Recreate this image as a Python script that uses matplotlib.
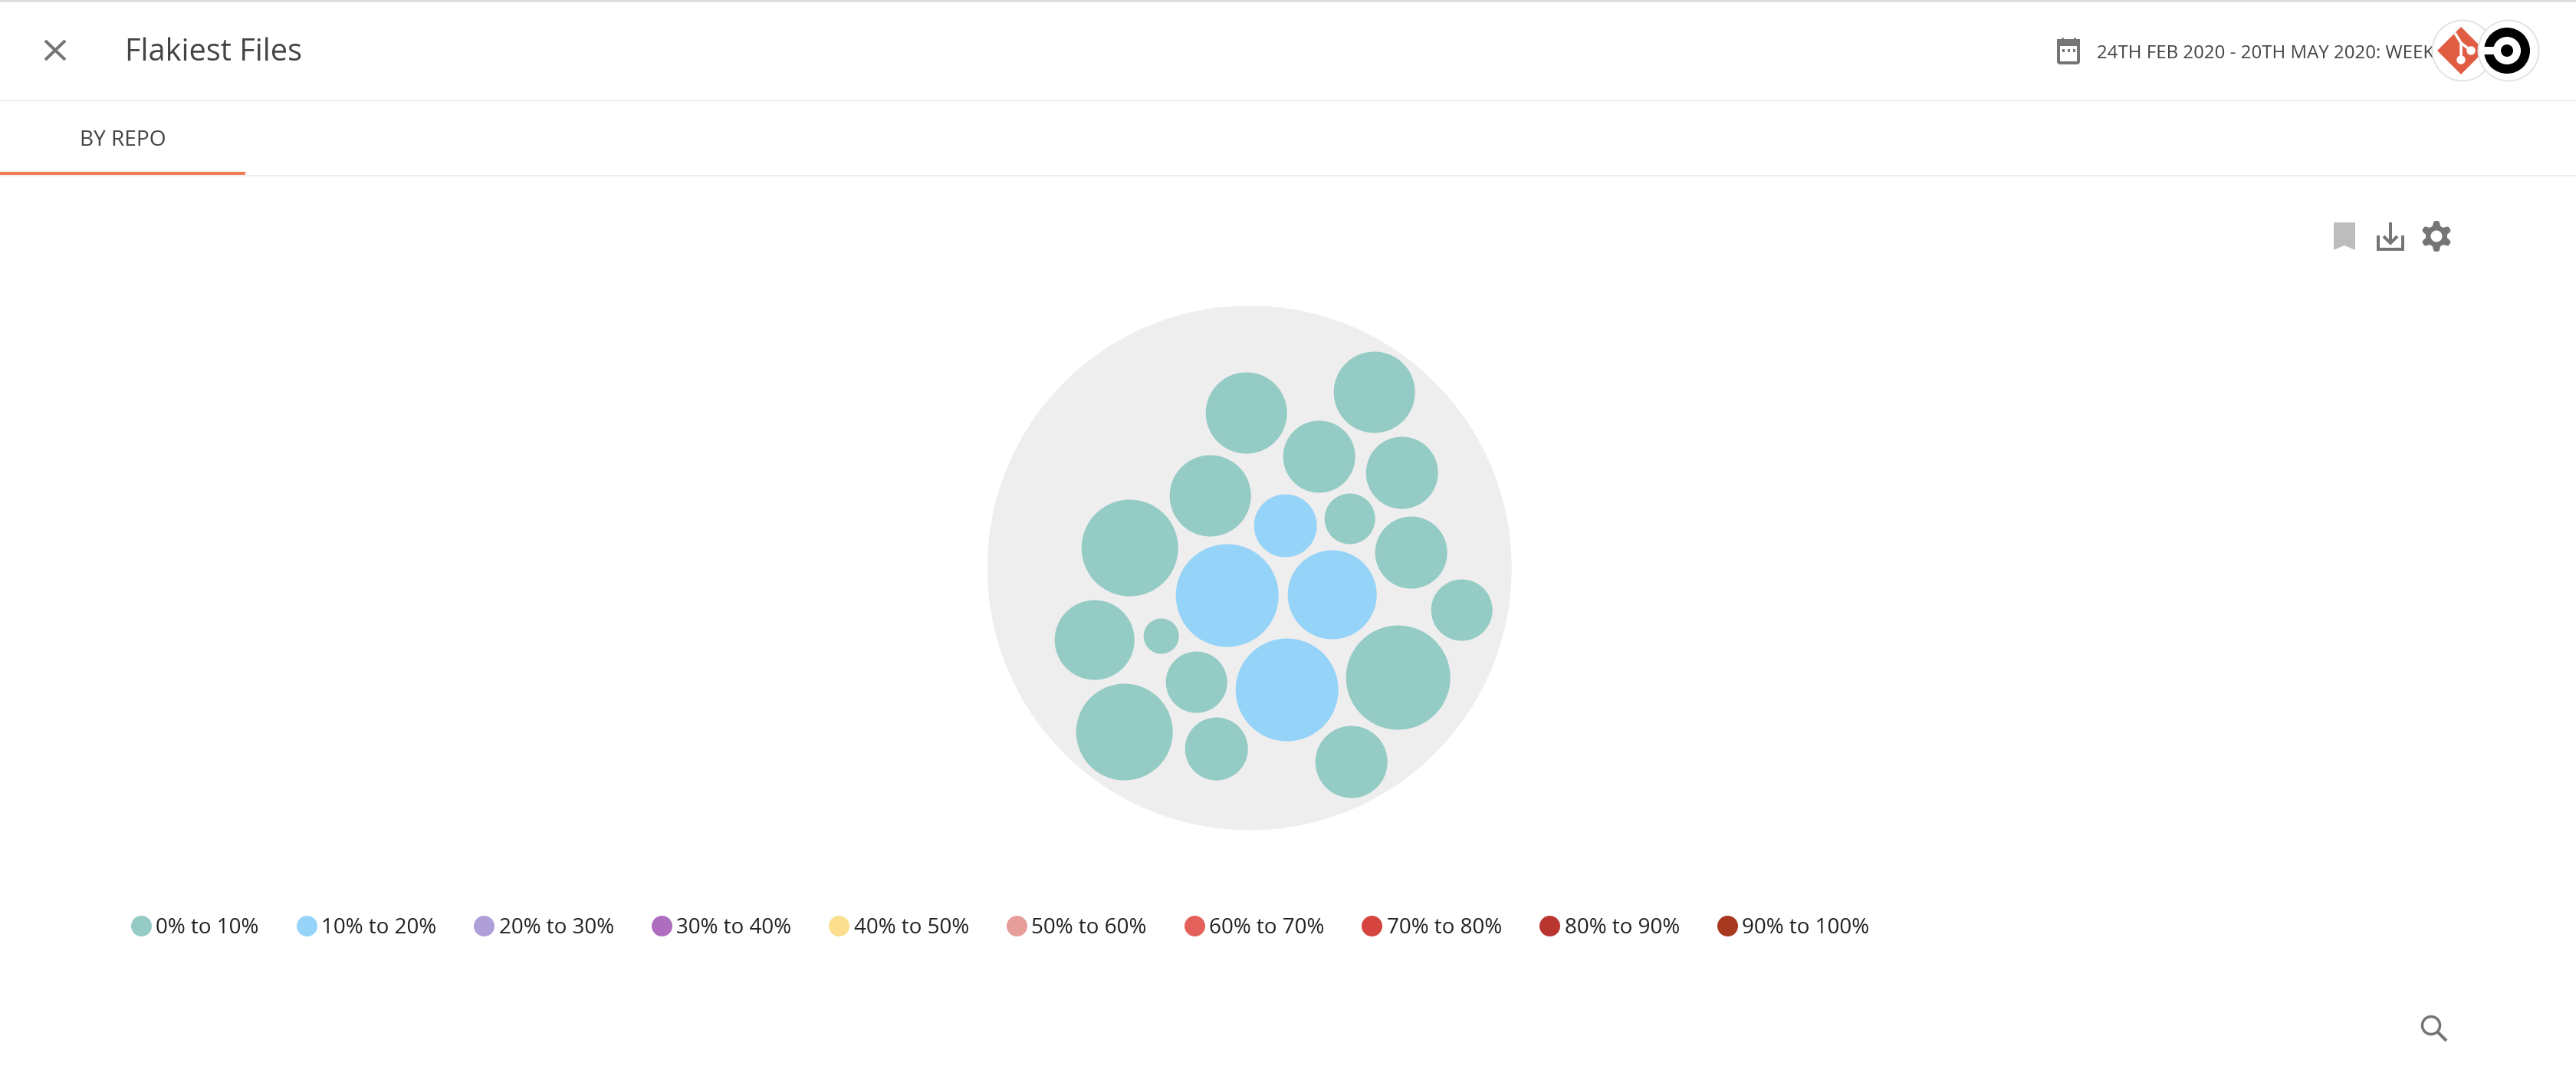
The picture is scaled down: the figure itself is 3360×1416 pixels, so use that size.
import numpy as np
import matplotlib
matplotlib.use('Agg')
import matplotlib.pyplot as plt
from matplotlib.lines import Line2D
from matplotlib.patches import Circle, Polygon, Rectangle, FancyBboxPatch

plt.rcParams['font.family'] = ['Open Sans', 'DejaVu Sans']

# legend bands
band_labels = ['0% to 10%', '10% to 20%', '20% to 30%', '30% to 40%', '40% to 50%',
               '50% to 60%', '60% to 70%', '70% to 80%', '80% to 90%', '90% to 100%']
band_colors = ['#94cbc4', '#96d3f8', '#af9fd8', '#ae6dbf', '#fbdf8e',
               '#e79e9b', '#e4605a', '#d5443f', '#b93530', '#a8371f']

# bubbles, pack centre is 0,0
bubble_x = [-4, 163, 91, 199, -51, 47, 131, -156, 211, -29,
            108, 277, -202, -115, -69, 49, 194, -163, -43, 133]
bubble_y = [202, 229, 145, 124, 94, 55, 64, 26, 20, -36,
            -35, -55, -94, -89, -149, -159, -143, -214, -236, -253]
bubble_r = [53, 53, 47, 47, 53, 41, 33, 63, 47, 67,
            58, 40, 52, 23, 40, 67, 68, 63, 41, 47]
bubble_band = [0, 0, 0, 0, 0, 1, 0, 0, 0, 1,
               1, 0, 0, 0, 0, 1, 0, 0, 0, 0]
pack_r = 342

W, H = 3360, 1416
GREY = '#757575'
TEXT = '#444444'

fig = plt.figure(figsize=(W / 100, H / 100), dpi=100, facecolor='white')

# page furniture is laid out in pixels
ui = fig.add_axes([0, 0, 1, 1])
ui.set_xlim(0, W)
ui.set_ylim(H, 0)
ui.axis('off')


def px(n):
    return n * 0.72


def stroke(xs, ys, color=GREY, w=4, cap='butt', z=3):
    ui.plot(xs, ys, color=color, lw=px(w), solid_capstyle=cap, solid_joinstyle='miter', zorder=z)


# rules
ui.add_patch(Rectangle((0, 0), W, 2.5, color='#dcdce2', lw=0))
ui.add_patch(Rectangle((0, 130), W, 2, color='#eeeeee', lw=0))
ui.add_patch(Rectangle((0, 228), W, 2, color='#eeeeee', lw=0))
ui.add_patch(Rectangle((0, 224), 320, 4, color='#f27a54', lw=0))

# header
stroke([59, 85], [53, 78])
stroke([59, 85], [78, 53])
ui.text(163, 79, 'Flakiest Files', fontsize=28.6, color=TEXT, va='baseline')
ui.text(104, 190, 'BY REPO', fontsize=20.2, color=TEXT, va='baseline')
ui.text(2735, 76, '24TH FEB 2020 - 20TH MAY 2020: WEEK', fontsize=17.3, color=TEXT, va='baseline')

# calendar
ui.add_patch(FancyBboxPatch((2685, 53), 26, 29, boxstyle='round,pad=0,rounding_size=2',
                            fc='white', ec=GREY, lw=px(4)))
ui.add_patch(Rectangle((2683, 51), 30, 9, color=GREY, lw=0))
stroke([2690, 2690], [49, 53], w=3)
stroke([2706, 2706], [49, 53], w=3)
for dx in (2691, 2698, 2705):
    ui.add_patch(Rectangle((dx - 1.5, 64), 3, 4, color=GREY, lw=0))

# repo badges
ui.add_patch(Circle((3212, 66), 39.5, fc='white', ec='#e4e4e4', lw=px(2), zorder=4))
ui.add_patch(Polygon([(3210, 35), (3241, 66), (3210, 97), (3179, 66)], color='#e05d44', lw=0, zorder=4))
stroke([3202, 3210, 3210], [43, 56, 78], color='white', w=3.5, z=5)
stroke([3210, 3223], [56, 66], color='white', w=3.5, z=5)
ui.add_patch(Circle((3210, 78), 5, color='white', zorder=5))
ui.add_patch(Circle((3223, 66), 5, color='white', zorder=5))
ui.add_patch(Circle((3272, 66), 39.5, fc='white', ec='#e4e4e4', lw=px(2), zorder=6))
ui.add_patch(Circle((3270, 66), 30, color='black', lw=0, zorder=7))
ui.add_patch(Circle((3270, 66), 18, color='white', lw=0, zorder=7))
ui.add_patch(Rectangle((3238, 60.5), 26, 10.5, color='white', lw=0, zorder=7))
ui.add_patch(Circle((3270, 66), 8, color='black', lw=0, zorder=8))

# toolbar
ui.add_patch(Polygon([(3044, 290), (3072, 290), (3072, 326), (3058, 320), (3044, 326)],
                     color='#bdbdbd', lw=0))
stroke([3118, 3118], [290, 317])
stroke([3109, 3118, 3127], [308, 317, 308])
stroke([3102, 3102, 3134, 3134], [307, 324.5, 324.5, 307])
angle = np.linspace(0, 2 * np.pi, 145)
gear_r = 17 + 3 * np.clip(1.6 * np.cos(6 * angle), -1, 1)
ui.fill(3178 + gear_r * np.sin(angle), 308 + gear_r * np.cos(angle), color=GREY, lw=0)
ui.add_patch(Circle((3178, 308), 7.5, color='white', lw=0))

# search
ui.add_patch(Circle((3171, 1337), 11.5, fc='none', ec=GREY, lw=px(3.5)))
stroke([3179, 3191], [1345, 1357], w=4)

# bubbles
cx, cy = 1629.7, 740.5
pack = fig.add_axes([(cx - pack_r) / W, 1 - (cy + pack_r) / H, 2 * pack_r / W, 2 * pack_r / H])
pack.set_xlim(-pack_r, pack_r)
pack.set_ylim(-pack_r, pack_r)
pack.set_aspect('equal')
pack.axis('off')
pack.add_patch(Circle((0, 0), pack_r, color='#eeeeee', lw=0))
for x, y, r, b in zip(bubble_x, bubble_y, bubble_r, bubble_band):
    pack.add_patch(Circle((x, y), r, color=band_colors[b], lw=0))

# legend
handles = [Line2D([], [], ls='none', marker='o', ms=px(27), mew=0, color=c) for c in band_colors]
ui.legend(handles, band_labels, ncol=10, frameon=False, loc='center left',
          bbox_to_anchor=(170, 1210), bbox_transform=ui.transData, fontsize=20,
          labelcolor='#222222', handlelength=1, handletextpad=0.2, columnspacing=1.73,
          borderpad=0, borderaxespad=0)

fig.savefig('out.png', dpi=100)
